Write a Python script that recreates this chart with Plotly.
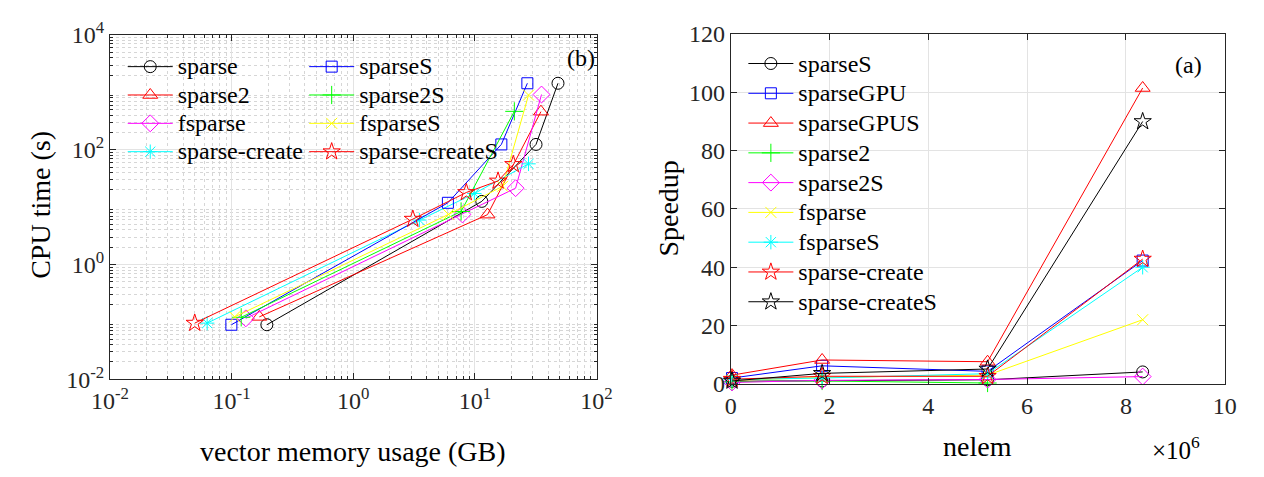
import plotly.graph_objects as go

FONT = "Liberation Serif"
INK = "#262626"
W, H = 1264, 477

# ---------------- left panel: CPU time vs vector memory usage ----------------
mem_sparse = [0.195, 11.4, 31.8, 48.2]
cpu_sparse = [0.089, 12.6, 124.0, 1446.0]
mem_sparse2 = [0.169, 12.7, 34.9]
cpu_sparse2 = [0.122, 7.4, 462.0]
mem_fsparse = [0.131, 7.9, 21.6, 35.3]
cpu_fsparse = [0.115, 7.46, 21.4, 920.0]
mem_create = [0.063, 3.5, 9.9, 27.6]
cpu_create = [0.095, 5.95, 17.3, 56.9]
mem_sparseS = [0.0996, 6.0, 16.5, 27.0]
cpu_sparseS = [0.089, 11.9, 124.0, 1446.0]
mem_sparse2S = [0.12, 7.7, 21.1]
cpu_sparse2S = [0.12, 8.4, 468.0]
mem_fsparseS = [0.106, 6.07, 16.9, 27.6]
cpu_fsparseS = [0.122, 7.46, 23.1, 900.0]
mem_createS = [0.0498, 3.09, 8.5, 15.5, 20.7]
cpu_createS = [0.095, 6.18, 18.0, 28.6, 55.6]

# ---------------- right panel: speedup vs number of elements ----------------
nelem = [0.026e6, 1.85e6, 5.2e6, 8.34e6]
sp_sparseS = [0.9, 1.0, 1.4, 4.1]
sp_sparseGPU = [2.0, 6.2, 4.3, 42.3]
sp_sparseGPUS = [3.0, 8.2, 7.6, 101.5]
sp_sparse2 = [0.7, 1.0, 0.3]
sp_sparse2S = [0.5, 1.2, 1.5, 2.5]
sp_fsparse = [1.2, 2.2, 3.0, 22.0]
sp_fsparseS = [1.5, 2.0, 3.5, 40.0]
sp_create = [1.6, 2.6, 2.6, 42.8]
sp_createS = [1.0, 3.6, 5.1, 90.0]

log_ticks = [-2, -1, 0, 1, 2, 3, 4]

SIZES = {"circle-open": 12, "square-open": 11, "triangle-up-open": 13,
         "diamond-open": 13, "star-open": 13, "asterisk-open": 12,
         "cross-thin-open": 13, "x-thin-open": 11}

fig = go.Figure()


def add_series(x, y, name, color, symbol, xa, ya, legend, rank):
    fig.add_trace(go.Scatter(
        x=x, y=y, mode="lines+markers", cliponaxis=False,
        name=f'<span style="font-size:24px">{name}</span>',
        line=dict(color=color, width=1),
        marker=dict(symbol=symbol, size=SIZES[symbol], color=color,
                    line=dict(color=color, width=1)),
        xaxis=xa, yaxis=ya, legend=legend, legendrank=rank,
    ))


# left panel, two legend columns
add_series(mem_sparse, cpu_sparse, "sparse", "#000000", "circle-open", "x", "y", "legend", 1)
add_series(mem_sparse2, cpu_sparse2, "sparse2", "#ff0000", "triangle-up-open", "x", "y", "legend", 2)
add_series(mem_fsparse, cpu_fsparse, "fsparse", "#ff00ff", "diamond-open", "x", "y", "legend", 3)
add_series(mem_create, cpu_create, "sparse-create", "#00ffff", "asterisk-open", "x", "y", "legend", 4)
add_series(mem_sparseS, cpu_sparseS, "sparseS", "#0000ff", "square-open", "x", "y", "legend2", 1)
add_series(mem_sparse2S, cpu_sparse2S, "sparse2S", "#00ff00", "cross-thin-open", "x", "y", "legend2", 2)
add_series(mem_fsparseS, cpu_fsparseS, "fsparseS", "#ffff00", "x-thin-open", "x", "y", "legend2", 3)
add_series(mem_createS, cpu_createS, "sparse-createS", "#ff0000", "star-open", "x", "y", "legend2", 4)

# right panel
add_series(nelem, sp_sparseS, "sparseS", "#000000", "circle-open", "x2", "y2", "legend3", 1)
add_series(nelem, sp_sparseGPU, "sparseGPU", "#0000ff", "square-open", "x2", "y2", "legend3", 2)
add_series(nelem, sp_sparseGPUS, "sparseGPUS", "#ff0000", "triangle-up-open", "x2", "y2", "legend3", 3)
add_series(nelem[:3], sp_sparse2, "sparse2", "#00ff00", "cross-thin-open", "x2", "y2", "legend3", 4)
add_series(nelem, sp_sparse2S, "sparse2S", "#ff00ff", "diamond-open", "x2", "y2", "legend3", 5)
add_series(nelem, sp_fsparse, "fsparse", "#ffff00", "x-thin-open", "x2", "y2", "legend3", 6)
add_series(nelem, sp_fsparseS, "fsparseS", "#00ffff", "asterisk-open", "x2", "y2", "legend3", 7)
add_series(nelem, sp_create, "sparse-create", "#ff0000", "star-open", "x2", "y2", "legend3", 8)
add_series(nelem, sp_createS, "sparse-createS", "#000000", "star-open", "x2", "y2", "legend3", 9)

minor_log = [m * 10.0 ** e for e in range(-2, 4) for m in range(2, 10)]

common = dict(
    showline=True, linecolor=INK, linewidth=1, mirror="allticks",
    ticks="inside", ticklen=6, tickcolor=INK, tickwidth=1,
    tickfont=dict(family=FONT, size=24, color=INK),
    zeroline=False, showgrid=True, gridcolor="#e3e3e3", gridwidth=1,
)

log_minor = dict(tickmode="array", ticks="inside", ticklen=3, tickcolor=INK,
                 showgrid=True, gridcolor="#d6d6d6", griddash="dot")

fig.update_layout(
    width=W, height=H, margin=dict(l=0, r=0, t=0, b=0),
    paper_bgcolor="white", plot_bgcolor="white", showlegend=True,
    font=dict(family=FONT, color=INK),
    xaxis=dict(common, domain=[93.5 / W, 594 / W], type="log", range=[-2, 2], anchor="y",
               tickmode="array", tickvals=[10.0 ** k for k in log_ticks[:5]],
               ticktext=[f"10<sup>{k}</sup>" for k in log_ticks[:5]],
               minor=dict(log_minor, tickvals=[v for v in minor_log if v < 100])),
    yaxis=dict(common, domain=[1 - 386.5 / H, 1 - 19.3 / H], type="log", range=[-2, 4], anchor="x",
               tickmode="array", tickvals=[10.0 ** k for k in log_ticks[::2]],
               ticktext=[f"10<sup>{k}</sup>" for k in log_ticks[::2]],
               minor=dict(log_minor, tickvals=minor_log)),
    xaxis2=dict(common, domain=[732 / W, 1240 / W], range=[0, 10e6], anchor="y2",
                tickmode="array", tickvals=[0, 2e6, 4e6, 6e6, 8e6, 10e6],
                ticktext=["0", "2", "4", "6", "8", "10"]),
    yaxis2=dict(common, domain=[1 - 391.5 / H, 1 - 18.2 / H], range=[0, 120], anchor="x2",
                tickmode="array", tickvals=[0, 20, 40, 60, 80, 100, 120]),
)

leg_common = dict(bgcolor="rgba(0,0,0,0)", borderwidth=0, itemwidth=45,
                  xanchor="left", yanchor="top", tracegroupgap=0,
                  itemclick=False, itemdoubleclick=False)
fig.update_layout(
    legend=dict(leg_common, x=106.7 / W, y=1 - 32.5 / H,
                font=dict(family=FONT, size=19.5, color="#000000")),
    legend2=dict(leg_common, x=293.3 / W, y=1 - 32.5 / H,
                 font=dict(family=FONT, size=19.5, color="#000000")),
    legend3=dict(leg_common, x=745 / W, y=1 - 28.4 / H,
                 font=dict(family=FONT, size=20.6, color="#000000")),
)


def note(text, x, y, size, angle=0):
    fig.add_annotation(text=text, x=x / W, y=1 - y / H, xref="paper", yref="paper",
                       showarrow=False, textangle=angle, xanchor="center", yanchor="middle",
                       font=dict(family=FONT, size=size, color="#000000"))


note("(b)", 578, 44, 24)
note("(a)", 1203, 51, 24)
note("CPU time (s)", 22, 200, 28, -90)
note("Speedup", 668, 205, 28, -90)
note("vector memory usage (GB)", 343, 464, 28)
note("nelem", 986, 458, 28)
note("×10<sup>6</sup>", 1190, 460, 25)

fig.write_html("out.html")
